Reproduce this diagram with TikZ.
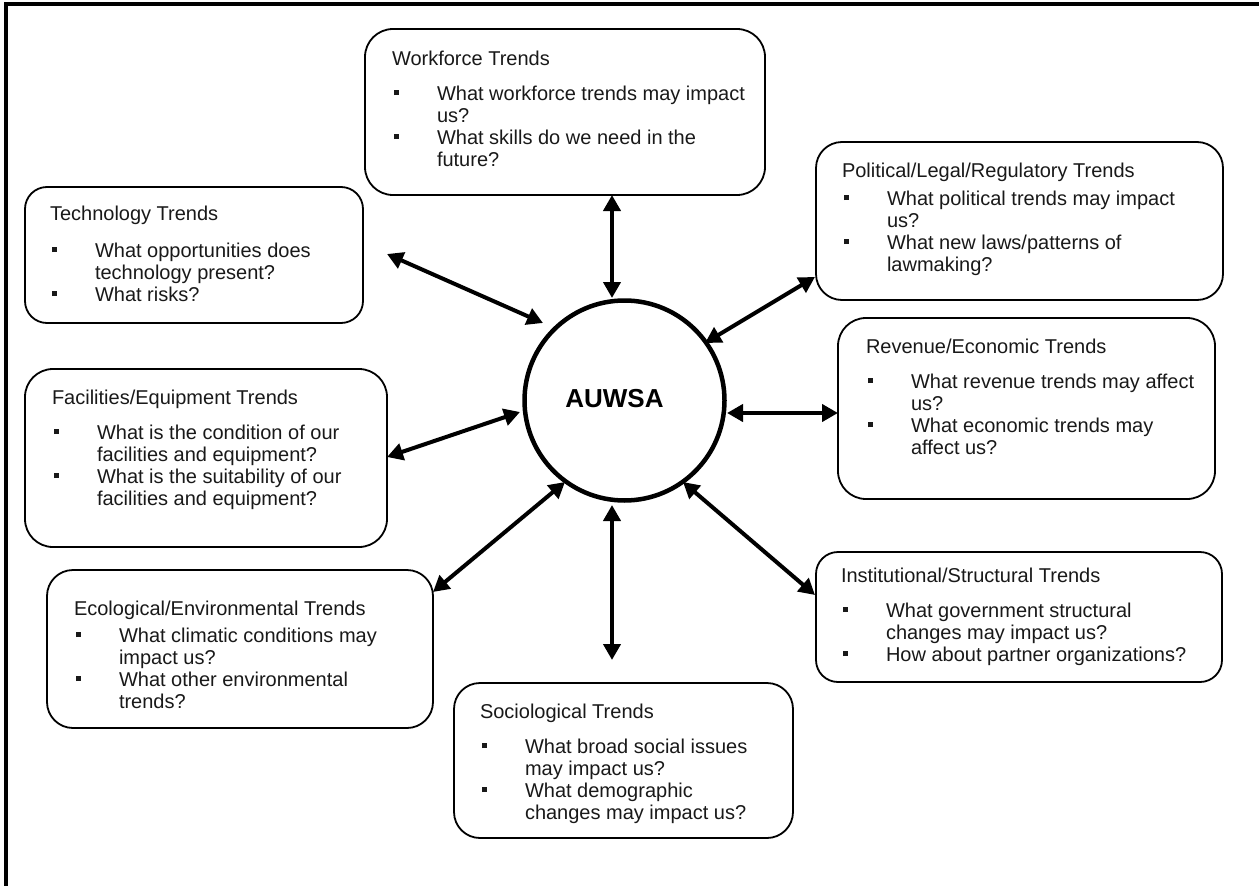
\documentclass[tikz,border=0pt]{standalone}
\usepackage{fontspec}
\setmainfont{Liberation Sans}
\usetikzlibrary{arrows.meta}
\newcommand{\tbul}{\makebox[45pt][l]{\hspace{2pt}\raisebox{5pt}{\rule{5pt}{5pt}}}}
\newcommand{\tind}{\hspace*{45pt}}
\newcommand{\tbox}[6]{%
  \node[tboxstyle, rounded corners=#6pt, minimum width={#4-#2}, minimum height={#5-#3}, anchor=north west] (#1) at (#2,#3) {};}
\begin{document}
\begin{tikzpicture}[x=1pt,y=-1pt,
  tboxstyle/.style={draw, line width=1.8pt, inner sep=0pt, outer sep=0pt},
  ttext/.style={anchor=base west, inner sep=0pt, outer sep=0pt, font=\fontsize{20}{22}\selectfont, text=black!90},
  hub/.style={circle, draw, line width=4.5pt, minimum size=200pt, inner sep=0pt},
  hublabel/.style={font=\fontsize{26}{28}\selectfont\bfseries, inner sep=0pt},
  conn/.style={line width=4pt, {Triangle[length=16pt,width=17pt]}-{Triangle[length=16pt,width=17pt]}}]
\useasboundingbox (0,0) rectangle (1259,886);
\fill[white] (0,0) rectangle (1259,886);
\draw[line width=4pt] (1259,4) -- (6,4) -- (6,886);

% boxes
\tbox{work}{365}{29}{765}{195}{28}
\tbox{pol}{816}{142}{1223}{300}{26}
\tbox{tech}{25}{187}{363}{323}{22}
\tbox{rev}{838}{318}{1215}{499}{28}
\tbox{fac}{25}{369}{387}{547}{28}
\tbox{inst}{816}{552}{1222}{682}{22}
\tbox{eco}{47}{570}{433}{728}{26}
\tbox{soc}{454}{683}{793}{838}{26}

% texts
\node[ttext] (workt) at (392,65) {\begin{tabular}[t]{@{}l@{}}Workforce Trends\\[13pt]
\tbul What workforce trends may impact\\ \tind us?\\ \tbul What skills do we need in the\\ \tind future?\end{tabular}};
\node[ttext] (polt) at (842,177) {\begin{tabular}[t]{@{}l@{}}Political/Legal/Regulatory Trends\\[6pt]
\tbul What political trends may impact\\ \tind us?\\ \tbul What new laws/patterns of\\ \tind lawmaking?\end{tabular}};
\node[ttext] (techt) at (50,220) {\begin{tabular}[t]{@{}l@{}}Technology Trends\\[15pt]
\tbul What opportunities does\\ \tind technology present?\\ \tbul What risks?\end{tabular}};
\node[ttext] (revt) at (866,353) {\begin{tabular}[t]{@{}l@{}}Revenue/Economic Trends\\[13pt]
\tbul What revenue trends may affect\\ \tind us?\\ \tbul What economic trends may\\ \tind affect us?\end{tabular}};
\node[ttext] (fact) at (52,404) {\begin{tabular}[t]{@{}l@{}}Facilities/Equipment Trends\\[13pt]
\tbul What is the condition of our\\ \tind facilities and equipment?\\ \tbul What is the suitability of our\\ \tind facilities and equipment?\end{tabular}};
\node[ttext] (instt) at (841,582) {\begin{tabular}[t]{@{}l@{}}Institutional/Structural Trends\\[13pt]
\tbul What government structural\\ \tind changes may impact us?\\ \tbul How about partner organizations?\end{tabular}};
\node[ttext] (ecot) at (74,615) {\begin{tabular}[t]{@{}l@{}}Ecological/Environmental Trends\\[5pt]
\tbul What climatic conditions may\\ \tind impact us?\\ \tbul What other environmental\\ \tind trends?\end{tabular}};
\node[ttext] (soct) at (480,718) {\begin{tabular}[t]{@{}l@{}}Sociological Trends\\[13pt]
\tbul What broad social issues\\ \tind may impact us?\\ \tbul What demographic\\ \tind changes may impact us?\end{tabular}};

% hub
\node[hub] (hub) at (624.5,400.5) {};
\node[hublabel] (hubl) at (614.5,399) {AUWSA};

% connector ends
\coordinate (aw1) at (612,195);  \coordinate (aw2) at (612,298);
\coordinate (at1) at (387,254);  \coordinate (at2) at (543,323);
\coordinate (ap1) at (815,277);  \coordinate (ap2) at (705,343);
\coordinate (ar1) at (838,413);  \coordinate (ar2) at (727,413);
\coordinate (af1) at (387,457);  \coordinate (af2) at (520,412);
\coordinate (ae1) at (433,592);  \coordinate (ae2) at (565,482);
\coordinate (as1) at (612,660);  \coordinate (as2) at (612,505);
\coordinate (ai1) at (815,595);  \coordinate (ai2) at (683,482);

\draw[conn] (aw1) -- (aw2);
\draw[conn] (at1) -- (at2);
\draw[conn] (ap1) -- (ap2);
\draw[conn] (ar1) -- (ar2);
\draw[conn] (af1) -- (af2);
\draw[conn] (ae1) -- (ae2);
\draw[conn] (as1) -- (as2);
\draw[conn] (ai1) -- (ai2);
\end{tikzpicture}
\end{document}
